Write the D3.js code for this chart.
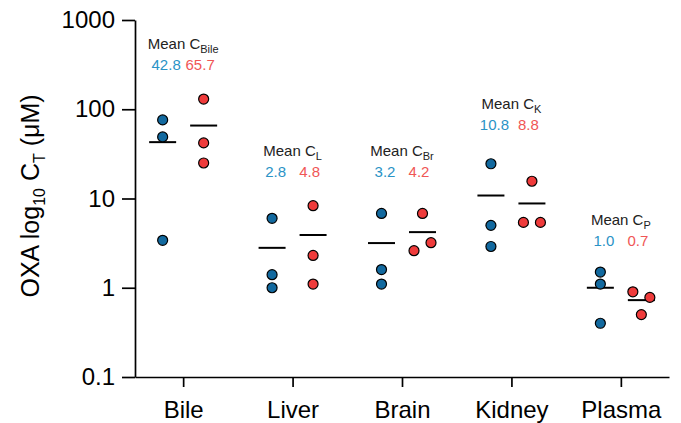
<!DOCTYPE html>
<html>
<head>
<meta charset="utf-8">
<script src="https://cdn.jsdelivr.net/npm/d3@7"></script>
<style>
  body { margin: 0; background: #fff; }
  text { font-family: "Liberation Sans", Arial, sans-serif; }
</style>
</head>
<body>
<div id="chart"></div>
<script>
// tissues on the x axis
const tissues = ["Bile", "Liver", "Brain", "Kidney", "Plasma"];
const subLabels = ["Bile", "L", "Br", "K", "P"];

// individual OXA concentrations (µM), three animals per group
const blueValues = [
  [76, 49, 3.4],
  [6.0, 1.4, 1.0],
  [6.8, 1.6, 1.1],
  [24.5, 5.0, 2.9],
  [1.5, 1.1, 0.4]
];
const redValues = [
  [130, 42, 25],
  [8.3, 2.3, 1.1],
  [6.8, 2.6, 3.2],
  [15.6, 5.4, 5.4],
  [0.9, 0.78, 0.5]
];

// printed means
const blueMeans = ["42.8", "2.8", "3.2", "10.8", "1.0"];
const redMeans = ["65.7", "4.8", "4.2", "8.8", "0.7"];
// level (µM) of the mean annotation for each tissue
const labelLevel = [275, 17.4, 17.4, 58.6, 2.94];

const yTicks = [0.1, 1, 10, 100, 1000];

const width = 681, height = 423;
const blue = "#12699f", red = "#ef3b3b";
const blueText = "#2a93c6", redText = "#f05656";

const svg = d3.select("#chart").append("svg")
  .attr("width", width)
  .attr("height", height);

const x = d3.scalePoint().domain(tissues).range([135, 669]).padding(0.44);
const y = d3.scaleLog().domain([0.1, 1000]).range([377, 20]);

// y axis
const yAxis = svg.append("g")
  .attr("transform", "translate(135,0)")
  .call(d3.axisLeft(y).tickValues(yTicks).tickFormat(d3.format("~g"))
    .tickSize(13).tickSizeOuter(0).tickPadding(7));
yAxis.selectAll("text").style("font-size", "24px").attr("fill", "#000");

// x axis
const xAxis = svg.append("g")
  .attr("transform", "translate(0,377)")
  .call(d3.axisBottom(x).tickSize(10).tickSizeOuter(0).tickPadding(14));
xAxis.selectAll("text").style("font-size", "24px").attr("fill", "#000");

svg.selectAll(".domain, .tick line").attr("stroke", "#000").attr("stroke-width", 1.7);

// y axis title
const yTitle = svg.append("text")
  .attr("transform", "translate(39,196) rotate(-90)")
  .attr("text-anchor", "middle")
  .style("font-size", "25px");
yTitle.append("tspan").text("OXA log");
yTitle.append("tspan").attr("dy", 6).style("font-size", "16px").text("10");
yTitle.append("tspan").attr("dy", -6).text(" C");
yTitle.append("tspan").attr("dy", 6).style("font-size", "16px").text("T");
yTitle.append("tspan").attr("dy", -6).text(" (μM)");

const groupOffset = 20.5;
const r = 5;

// spread points that would overlap, GraphPad style
function spread(vals) {
  const ys = vals.map(v => y(v));
  const dx = vals.map(() => 0);
  const used = new Set();
  vals.forEach((v, i) => {
    if (used.has(i)) return;
    for (let j = i + 1; j < vals.length; j++) {
      if (!used.has(j) && Math.abs(ys[i] - ys[j]) < 2 * r) {
        dx[i] = -8.5; dx[j] = 8.5;
        used.add(i); used.add(j);
        break;
      }
    }
  });
  return dx;
}

function drawGroup(vals, cx, color) {
  const dx = spread(vals);
  const m = d3.mean(vals);
  svg.append("line")
    .attr("x1", cx - 13.5).attr("x2", cx + 13.5)
    .attr("y1", y(m)).attr("y2", y(m))
    .attr("stroke", "#000").attr("stroke-width", 2);
  svg.append("g").selectAll("circle")
    .data(vals)
    .join("circle")
    .attr("cx", (d, i) => cx + dx[i])
    .attr("cy", d => y(d))
    .attr("r", r)
    .attr("fill", color)
    .attr("stroke", "#000")
    .attr("stroke-width", 1.2);
}

tissues.forEach((t, i) => {
  const cx = x(t);
  drawGroup(blueValues[i], cx - groupOffset, blue);
  drawGroup(redValues[i], cx + groupOffset, red);

  const ly = y(labelLevel[i]);
  const mean = svg.append("text")
    .attr("x", cx).attr("y", ly - 21)
    .attr("text-anchor", "middle")
    .style("font-size", "15px")
    .attr("fill", "#222");
  mean.append("tspan").text("Mean C");
  mean.append("tspan").attr("dy", 4).style("font-size", "11px").text(subLabels[i]);

  svg.append("text")
    .attr("x", cx - 17).attr("y", ly)
    .attr("text-anchor", "middle")
    .style("font-size", "15px")
    .attr("fill", blueText)
    .text(blueMeans[i]);
  svg.append("text")
    .attr("x", cx + 17).attr("y", ly)
    .attr("text-anchor", "middle")
    .style("font-size", "15px")
    .attr("fill", redText)
    .text(redMeans[i]);
});
</script>
</body>
</html>
